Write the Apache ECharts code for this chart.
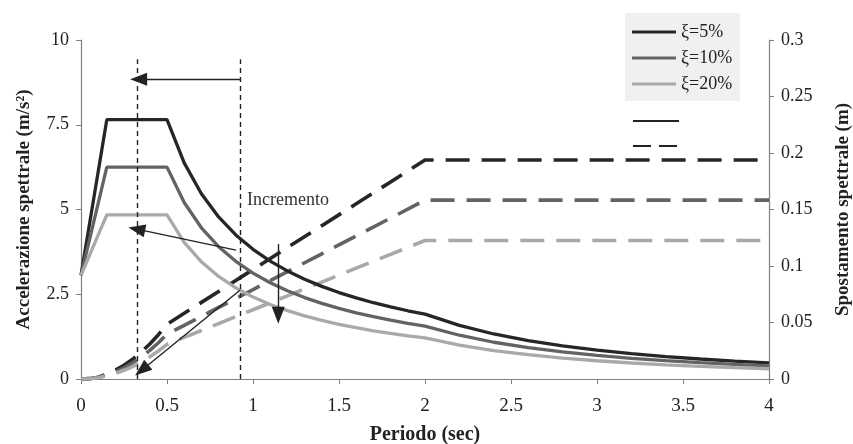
<!DOCTYPE html>
<html><head><meta charset="utf-8">
<script src="https://cdn.jsdelivr.net/npm/echarts@6/dist/echarts.min.js"></script>
<style>html,body{margin:0;padding:0;background:#fff}#c{width:853px;height:444px}</style>
</head><body><div id="c"></div>
<script>
// Spectral acceleration (left axis, m/s^2)
const periodSe = [0,0.15,0.5,0.6,0.7,0.8,0.9,1.0,1.1,1.2,1.3,1.4,1.5,1.6,1.7,1.8,1.9,2.0,2.2,2.4,2.6,2.8,3.0,3.2,3.4,3.6,3.8,4.0];
const seXi5  = [3.06,7.65,7.65,6.375,5.464,4.781,4.25,3.825,3.477,3.188,2.942,2.732,2.55,2.391,2.25,2.125,2.013,1.913,1.581,1.328,1.132,0.976,0.85,0.747,0.662,0.590,0.530,0.478];
const seXi10 = [3.06,6.25,6.25,5.205,4.461,3.904,3.470,3.123,2.839,2.603,2.402,2.231,2.082,1.952,1.837,1.735,1.644,1.562,1.291,1.084,0.924,0.797,0.694,0.610,0.540,0.482,0.433,0.390];
const seXi20 = [3.06,4.84,4.84,4.032,3.456,3.024,2.688,2.419,2.199,2.016,1.861,1.728,1.613,1.512,1.423,1.344,1.273,1.210,1.000,0.840,0.716,0.617,0.538,0.472,0.419,0.373,0.335,0.302];
// Spectral displacement (right axis, m)
const periodSd = [0,0.05,0.1,0.15,0.2,0.25,0.3,0.35,0.4,0.45,0.5,0.6,0.7,0.8,0.9,1.0,1.2,1.4,1.6,1.8,2.0,4.0];
const sdXi5  = [0,0.0003,0.0016,0.0044,0.0078,0.0121,0.0174,0.0237,0.0310,0.0392,0.0485,0.0581,0.0678,0.0775,0.0872,0.0969,0.1163,0.1357,0.1550,0.1744,0.1938,0.1938];
const sdXi10 = [0,0.0003,0.0013,0.0036,0.0063,0.0099,0.0143,0.0194,0.0253,0.0321,0.0396,0.0475,0.0554,0.0633,0.0712,0.0791,0.0950,0.1108,0.1266,0.1424,0.1583,0.1583];
const sdXi20 = [0,0.0002,0.0011,0.0028,0.0049,0.0077,0.0110,0.0150,0.0196,0.0248,0.0307,0.0368,0.0429,0.0490,0.0552,0.0613,0.0736,0.0858,0.0981,0.1103,0.1226,0.1226];
const seriesNames = ['ξ=5%','ξ=10%','ξ=20%'];
// Annotations (data coordinates: period, acceleration)
const guidePeriods = [0.327, 0.924];
const guideTop = 9.43;
const arrows = [
  [[0.924, 8.84], [0.335, 8.84]],
  [[0.901, 3.80], [0.324, 4.42]],
  [[0.924, 2.62], [0.353, 0.26]],
  [[1.147, 3.98], [1.147, 1.88]]
];

const colors = ['#262626', '#636363', '#a9a9a9'];
const serif = 'Liberation Serif, Times New Roman, serif';
const pair = (xs, ys) => xs.map((x, i) => [x, ys[i]]);

const markData = [];
guidePeriods.forEach(p => {
  markData.push([
    {coord: [p, 0], symbol: 'none', lineStyle: {type: [5, 4], width: 1.4, color: '#222'}},
    {coord: [p, guideTop], symbol: 'none'}
  ]);
});
arrows.forEach(a => {
  markData.push([
    {coord: a[0], symbol: 'none', lineStyle: {type: 'solid', width: 1.4, color: '#222'}},
    {coord: a[1], symbol: 'triangle'}
  ]);
});

const seSets = [seXi5, seXi10, seXi20];
const sdSets = [sdXi5, sdXi10, sdXi20];
const series = [];
seSets.forEach((d, i) => {
  series.push({
    name: seriesNames[i], type: 'line', yAxisIndex: 0, symbol: 'none', showSymbol: false,
    data: pair(periodSe, d), z: 3,
    lineStyle: {color: colors[i], width: 3.3}, itemStyle: {color: colors[i]},
    emphasis: {disabled: true}, animation: false
  });
});
sdSets.forEach((d, i) => {
  series.push({
    name: seriesNames[i] + ' SD', type: 'line', yAxisIndex: 1, symbol: 'none',
    data: pair(periodSd, d), z: 2,
    lineStyle: {color: colors[i], width: 3.6, type: [24, 12], cap: 'butt'}, itemStyle: {color: colors[i]},
    emphasis: {disabled: true}, animation: false
  });
});
series.push({
  type: 'line', yAxisIndex: 0, data: [], silent: true, animation: false, z: 5,
  markLine: {silent: true, animation: false, label: {show: false}, symbolSize: [13, 17],
    lineStyle: {color: '#222'}, itemStyle: {color: '#222'}, emphasis: {disabled: true}, data: markData}
});

const chart = echarts.init(document.getElementById('c'), null, {renderer: 'canvas'});
chart.setOption({
  backgroundColor: '#fff',
  animation: false,
  grid: {left: 81, right: 84, top: 40, bottom: 65, containLabel: false, outerBoundsMode: 'none'},
  legend: {
    data: seriesNames.map(n => ({name: n, icon: 'rect'})), orient: 'vertical', left: 625, top: 13,
    backgroundColor: '#f0f0f0', padding: [10, 8, 8, 7],
    itemWidth: 44, itemHeight: 3, itemGap: 8, selectedMode: false,
    textStyle: {fontFamily: serif, fontSize: 18, color: '#222', lineHeight: 18}
  },
  xAxis: {
    type: 'value', min: 0, max: 4, interval: 0.5,
    name: 'Periodo (sec)', nameLocation: 'middle', nameGap: 46,
    nameTextStyle: {fontFamily: serif, fontSize: 20, fontWeight: 'bold', color: '#222'},
    axisLine: {show: true, onZero: false, lineStyle: {color: '#7f7f7f', width: 1.2}},
    axisTick: {show: true, length: 5, lineStyle: {color: '#7f7f7f'}},
    axisLabel: {fontFamily: serif, fontSize: 19, color: '#222', margin: 18},
    splitLine: {show: false}
  },
  yAxis: [{
    type: 'value', min: 0, max: 10, interval: 2.5, position: 'left',
    name: 'Accelerazione spettrale (m/s²)', nameLocation: 'middle', nameGap: 47,
    nameTextStyle: {fontFamily: serif, fontSize: 19, fontWeight: 'bold', color: '#222'},
    axisLine: {show: true, lineStyle: {color: '#7f7f7f', width: 1.2}},
    axisTick: {show: true, length: 5, lineStyle: {color: '#7f7f7f'}},
    axisLabel: {fontFamily: serif, fontSize: 18, color: '#222', margin: 12},
    splitLine: {show: false}
  }, {
    type: 'value', min: 0, max: 0.3, interval: 0.05, position: 'right',
    name: 'Spostamento spettrale (m)', nameLocation: 'middle', nameGap: 65, nameRotate: 90,
    nameTextStyle: {fontFamily: serif, fontSize: 19, fontWeight: 'bold', color: '#222'},
    axisLine: {show: true, lineStyle: {color: '#7f7f7f', width: 1.2}},
    axisTick: {show: true, length: 5, lineStyle: {color: '#7f7f7f'}},
    axisLabel: {fontFamily: serif, fontSize: 18, color: '#222', margin: 12},
    splitLine: {show: false}
  }],
  graphic: [
    {type: 'text', left: 247, top: 191, silent: true,
      style: {text: 'Incremento', fontFamily: serif, fontSize: 18, fill: '#333'}},
    {type: 'line', silent: true, shape: {x1: 633, y1: 121, x2: 679, y2: 121}, style: {stroke: '#222', lineWidth: 2}},
    {type: 'line', silent: true, shape: {x1: 633, y1: 146, x2: 679, y2: 146}, style: {stroke: '#222', lineWidth: 2, lineDash: [18, 8]}}
  ],
  series: series
});
</script></body></html>
